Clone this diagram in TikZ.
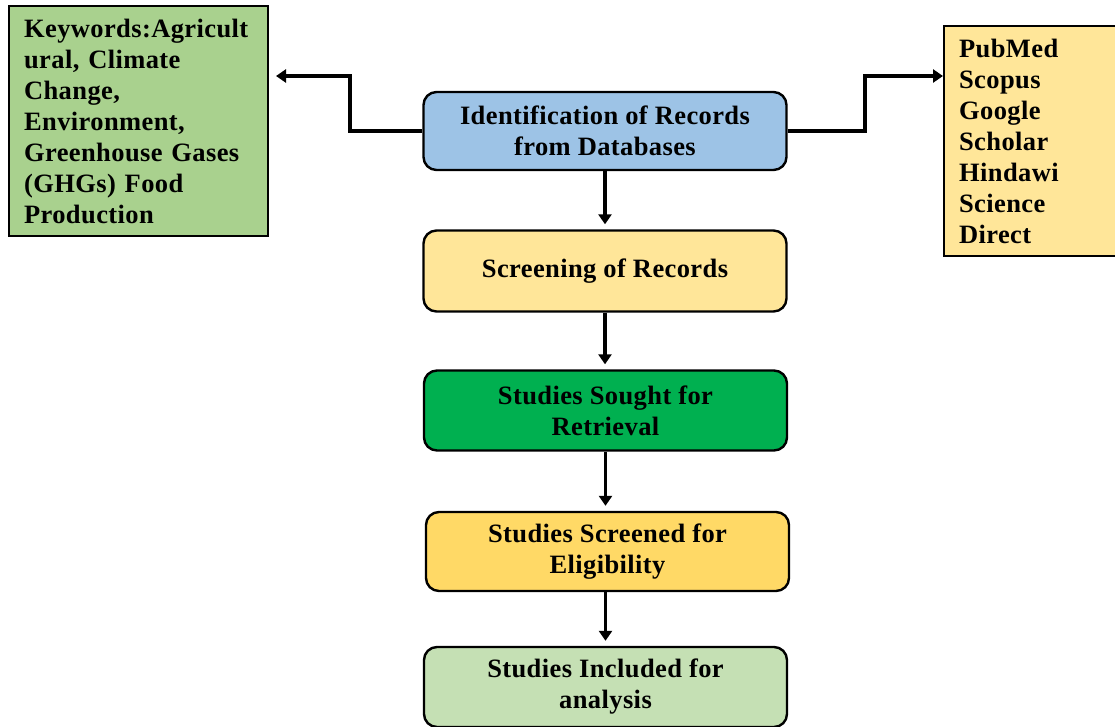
\documentclass[tikz,border=0pt]{standalone}
\usepackage{fontspec}
\setmainfont[LetterSpace=1.5]{Liberation Serif}
\usetikzlibrary{arrows.meta}
\definecolor{kwgreen}{HTML}{A9D18E}
\definecolor{dbyellow}{HTML}{FFE699}
\definecolor{idblue}{HTML}{9DC3E6}
\definecolor{srgreen}{HTML}{00B050}
\definecolor{elgold}{HTML}{FFD966}
\definecolor{inclgreen}{HTML}{C5E0B4}
\tikzset{
  txt/.style={font=\fontsize{26.5}{31}\selectfont\bfseries},
  stepbox/.style={txt, draw=black, line width=2.4pt, rounded corners=13pt,
    minimum width=363pt, align=center, inner sep=0pt},
  sidebox/.style={txt, draw=black, line width=2.2pt, anchor=north west,
    align=left, inner sep=0pt},
  flow/.style={line width=3.6pt, -{Triangle[length=10pt,width=13pt]}},
}
\begin{document}
\begin{tikzpicture}[x=1pt,y=-1pt]
\useasboundingbox (0,0) rectangle (1115,726);
\clip (0,0) rectangle (1115,726);

% main chain of steps
\node[stepbox, fill=idblue, minimum height=78pt] (ident) at (605,131)
  {Identification of Records\\from Databases};
\node[stepbox, fill=dbyellow, minimum height=81pt] (screen) at (605,271)
  {Screening of Records};
\node[stepbox, fill=srgreen, minimum height=80pt] (sought) at (605.5,410.5)
  {Studies Sought for\\Retrieval};
\node[stepbox, fill=elgold, minimum height=79pt] (elig) at (607.5,551.5)
  {Studies Screened for\\Eligibility};
\node[stepbox, fill=inclgreen, minimum height=80pt] (incl) at (605.5,687)
  {Studies Included for\\analysis};

% side boxes
\node[sidebox, fill=kwgreen, minimum width=259pt, minimum height=230pt,
  text width=229pt, inner xsep=15pt] (kw) at (8,5)
  {Keywords:Agricult\\ural, Climate\\Change,\\Environment,\\Greenhouse Gases\\(GHGs) Food\\Production};
\node[sidebox, fill=dbyellow, minimum width=176pt, minimum height=230pt,
  text width=146pt, inner xsep=15pt] (db) at (943,25)
  {PubMed\\Scopus\\Google\\Scholar\\Hindawi\\Science\\Direct};

% connectors
\coordinate (kwtip) at (276,76);
\coordinate (dbtip) at (943,76);
\draw[flow] (ident.west) -- (350,131) |- (kwtip);
\draw[flow] (ident.east) -- (865,131) |- (dbtip);
\draw[flow, shorten >=5pt] (ident.south) -- (ident.south |- screen.north);
\draw[flow, shorten >=5pt] (screen.south) -- (screen.south |- sought.north);
\draw[flow, shorten >=5pt] (sought.south) -- (sought.south |- elig.north);
\draw[flow, shorten >=5pt] (sought.south |- elig.south) -- (sought.south |- incl.north);
\end{tikzpicture}
\end{document}
